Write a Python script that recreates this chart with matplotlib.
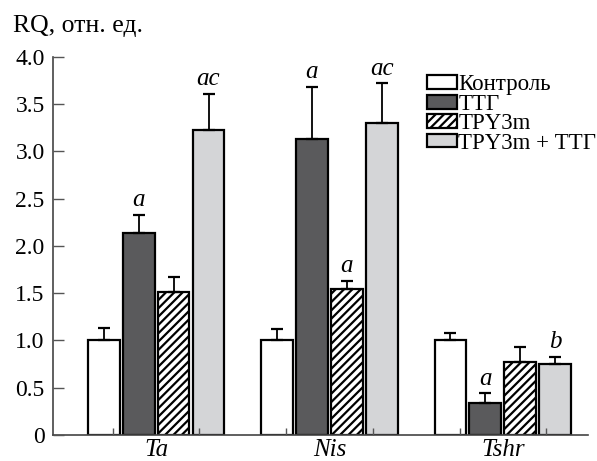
import numpy as np
import matplotlib.pyplot as plt
from matplotlib.patches import Patch

plt.rcParams['font.family'] = ['Liberation Serif', 'DejaVu Serif']

genes = ['Ta', 'Nis', 'Tshr']
groups = ['Контроль', 'ТТГ', 'TPY3m', 'TPY3m + ТТГ']

kontrol = [1.00, 1.00, 1.00]
ttg = [2.14, 3.13, 0.34]
tpy = [1.51, 1.55, 0.77]
tpy_ttg = [3.23, 3.30, 0.75]

err_kontrol = [0.13, 0.12, 0.08]
err_ttg = [0.19, 0.55, 0.10]
err_tpy = [0.16, 0.08, 0.16]
err_tpy_ttg = [0.38, 0.42, 0.08]

marks_ttg = ['a', 'a', 'a']
marks_tpy = ['', 'a', '']
marks_tpy_ttg = ['ac', 'ac', 'b']

values = [kontrol, ttg, tpy, tpy_ttg]
errors = [err_kontrol, err_ttg, err_tpy, err_tpy_ttg]
marks = [['', '', ''], marks_ttg, marks_tpy, marks_tpy_ttg]
colors = ['white', '#5a5a5c', 'white', '#d4d5d7']
hatches = [None, None, '////', None]

fig = plt.figure(figsize=(5.97, 4.61), dpi=100)
ax = fig.add_axes([0.0888, 0.0564, 0.896, 0.82])

plt.rcParams['hatch.linewidth'] = 1.6
x = np.arange(len(genes))
w = 0.184
step = 0.2017
for i in range(4):
    xs = x + (i - 1.5) * step
    ax.bar(xs, values[i], w, color=colors[i], edgecolor='black', linewidth=1.6,
           hatch=hatches[i], zorder=2)
    ax.errorbar(xs, values[i], yerr=[np.zeros(3), errors[i]], fmt='none',
                ecolor='black', elinewidth=1.3, capsize=4, capthick=1.6, zorder=3)
    for j in range(3):
        if marks[i][j]:
            ax.text(xs[j], values[i][j] + errors[i][j] + 0.04, marks[i][j],
                    ha='center', va='bottom', fontsize=18, style='italic')

ax.set_axisbelow(False)
ax.set_xlim(-0.594, 2.49)
ax.set_ylim(0, 4.0)
ax.set_yticks(np.arange(0, 4.01, 0.5))
ax.set_yticklabels(['0'] + ['%.1f' % v for v in np.arange(0.5, 4.01, 0.5)])
ax.set_xticks(x)
ax.set_xticklabels(genes, style='italic', fontsize=18)
ax.set_xticks([-0.25, 0.25, 0.75, 1.25, 1.75, 2.25], minor=True)
ax.tick_params(axis='x', which='major', length=0, pad=3)
ax.tick_params(axis='x', which='minor', direction='in', length=5, width=1, color='#555555')
ax.tick_params(axis='y', direction='in', length=8, width=1, labelsize=17, pad=6,
               color='#555555')
for s in ['top', 'right']:
    ax.spines[s].set_visible(False)
for s in ['left', 'bottom']:
    ax.spines[s].set_linewidth(1.2)
    ax.spines[s].set_color('#444444')

fig.text(0.022, 0.944, 'RQ, отн. ед.', fontsize=18.5, va='center')

handles = [Patch(facecolor=colors[i], edgecolor='black', linewidth=1.6, hatch=hatches[i])
           for i in range(4)]
ax.legend(handles, groups, loc='upper left', bbox_to_anchor=(0.70, 0.954),
          frameon=False, fontsize=16.5, handlelength=1.3, handleheight=0.55,
          handletextpad=0.05, labelspacing=-0.07, borderaxespad=0, borderpad=0)

plt.savefig('out.png', dpi=100)
